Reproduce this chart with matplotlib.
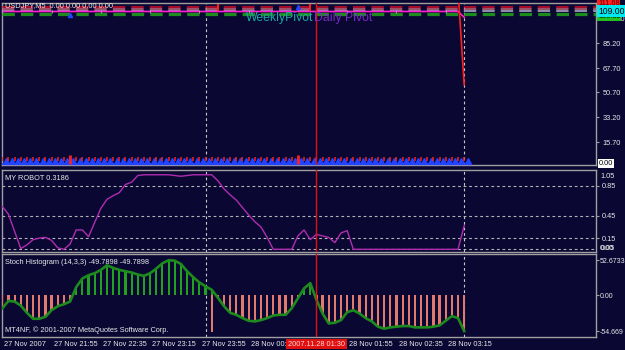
import matplotlib
matplotlib.use('Agg')
import matplotlib.pyplot as plt
import matplotlib.transforms as mtransforms

plt.rcParams['lines.scale_dashes'] = False
plt.rcParams['font.family'] = ['Liberation Sans', 'DejaVu Sans']

# ---------------- data ----------------
bars = list(range(76))
time_ticks = [0, 8, 16, 24, 32, 40, 56, 64, 72]
time_labels = ['27 Nov 2007', '27 Nov 21:55', '27 Nov 22:35', '27 Nov 23:15',
               '27 Nov 23:55', '28 Nov 00:35', '28 Nov 01:55',
               '28 Nov 02:35', '28 Nov 03:15']
cursor_bar = 51
cursor_label = '2007.11.28 01:30'
separator_bars = [33, 75]

main_ticks = [102.70, 85.20, 67.70, 50.70, 33.20, 15.70]
pivot_values = [110.7, 109.1, 107.9, 105.6]
daily_pivot_bars = [0, 74, 75]
daily_pivot_vals = [107.6, 107.6, 103.5]
fall_bars = [74, 75]
fall_vals = [122.0, 56.0]
sell_vals = [3.6] * 76
buy_vals = [2.2] * 76
big_arrow_bars = [11, 48]
top_red_bars = [35, 50]
top_blue_bars = [11, 48]
top_blue_vals = [105.3, 110.5]

robot = [0.575, 0.47, 0.24, 0.01, 0.06, 0.13, 0.15, 0.16, 0.12, 0.02,
         0.0, 0.07, 0.26, 0.26, 0.17, 0.36, 0.55, 0.67, 0.72, 0.76,
         0.87, 0.90, 0.99, 1.0, 1.0, 1.0, 1.0, 1.0, 0.99, 0.98,
         0.99, 1.0, 1.0, 1.0, 1.0, 0.92, 0.81, 0.73, 0.66, 0.56,
         0.46, 0.37, 0.30, 0.16, 0.0, 0.0, 0.0, 0.0, 0.18, 0.26,
         0.13, 0.20, 0.18, 0.16, 0.09, 0.22, 0.25,
         0.0, 0.0, 0.0, 0.0, 0.0, 0.0, 0.0, 0.0, 0.0, 0.0, 0.0, 0.0,
         0.0, 0.0, 0.0, 0.0, 0.0, 0.0, 0.3186]
robot_levels = [0.85, 0.45, 0.15, 0.0]
robot_ticks = [0.85, 0.45, 0.15]

stoch = [-20, -9, -10, -16, -27, -36, -36, -33, -23, -17,
         -14, -10, 12, 25, 30, 33, 38, 45, 41, 38,
         36, 34, 31, 29, 33, 40, 48, 52.67, 52, 47,
         36, 27, 19, 13, 8, -4, -17, -27, -30, -35,
         -39, -40, -38, -35, -31, -30, -30, -20, -5, 10,
         18, -7, -28, -43, -42, -38, -26, -23, -28, -35,
         -40, -48, -51, -49, -48, -47, -47, -49, -49, -49,
         -48, -46, -39, -32, -35, -54.669]
spike_bars = [34]
spike_vals = [-56]
stoch_ticks = [52.6733, 0.0, -54.669]
stoch_ticklabels = ['52.6733', '0.00', '-54.669']

# ---------------- figure ----------------
W, H = 625, 350
BG = '#0a0733'
FG = '#e8e8e8'
FRAME = '#a0a0a0'
FS = 5.3

fig = plt.figure(figsize=(W / 100, H / 100), dpi=100, facecolor=BG)


def px_axes(l, t, r, b):
    return fig.add_axes([l / W, 1 - b / H, (r - l) / W, (b - t) / H])


def ftext(x, y, s, **kw):
    kw.setdefault('color', FG)
    kw.setdefault('fontsize', FS)
    kw.setdefault('va', 'center')
    return fig.text(x / W, 1 - y / H, s, **kw)


ax_main = px_axes(2, 2.5, 596, 164.5)
ax_rob = px_axes(2, 170, 596, 252)
ax_sto = px_axes(2, 254, 596, 337)

for ax in (ax_main, ax_rob, ax_sto):
    ax.set_facecolor(BG)
    ax.set_xlim(-0.05, 96.4)
    for s in ax.spines.values():
        s.set_color(FRAME)
        s.set_linewidth(1)
    ax.set_xticks([])
    ax.yaxis.tick_right()
    ax.tick_params(axis='y', colors=FRAME, labelcolor=FG, labelsize=FS,
                   length=2, width=0.8, pad=2.5, direction='out')
    for b in separator_bars:
        ax.axvline(b, color='#c8c8c8', lw=0.8, ls=(0, (2, 2)), zorder=2)
    ax.axvline(cursor_bar, color='#e01010', lw=1.0, zorder=6)

# ---- main panel ----
ax_main.set_ylim(0, 113.9)
ax_main.set_yticks(main_ticks)
ax_main.set_yticklabels(['%.2f' % v for v in main_ticks])
piv_colors = ['#d81028', '#c86a7a', '#9a9ab8', '#1c8c1c']
piv_lw = [1.1, 1.1, 1.3, 2.3]
for v, c, lw in zip(pivot_values, piv_colors, piv_lw):
    ax_main.axhline(v, color=c, lw=lw, ls=(0, (8.9, 4.4)), zorder=3)
ax_main.plot(daily_pivot_bars, daily_pivot_vals, color='#ff22cc', lw=1.2, zorder=4)
ax_main.plot(fall_bars, fall_vals, color='#ff2020', lw=1.2, zorder=5)
ax_main.plot([b + 0.55 for b in bars], buy_vals, ls='none', marker='^', ms=4.6,
             color='#2244ff', mec='#2244ff', zorder=4)
ax_main.axhline(0.7, xmax=(75.6 + 0.05) / 96.45, color='#2244ff', lw=1.2, zorder=4)
ax_main.plot(bars, sell_vals, ls='none', marker='|', ms=3.2, mew=1.1,
             color='#ff2020', zorder=5)
ax_main.vlines(big_arrow_bars, 0.5, 6.5, color='#ff2020', lw=2, zorder=5)
ax_main.vlines(top_red_bars, 108.0, 113.0, color='#ff2020', lw=1.5, zorder=5)
ax_main.plot(top_blue_bars, top_blue_vals, ls='none', marker='^', ms=3,
             color='#2244ff', zorder=5)

ftext(5, 6, 'USDJPY,M5  0.00 0.00 0.00 0.00', zorder=7)
ftext(246, 18, 'WeeklyPivot', color='#1aa8a8', fontsize=8.8)
ftext(314, 18, 'Daily Pivot', color='#7a28c8', fontsize=8.8)

# price boxes on right scale
ftext(598, 3.5, '111.68', color='#600000', bbox=dict(fc='#ff2020', ec='none', pad=0.6))
ftext(598, 17.0, '105.32', color='#003000', bbox=dict(fc='#22c022', ec='none', pad=0.6))
ftext(598, 11.0, '109.00', color='#000000', fontsize=6.2,
      bbox=dict(fc='#00e8f0', ec='none', pad=0.8))
ftext(599, 163.2, '0.00', color='#000000', bbox=dict(fc='#ffffff', ec='none', pad=0.8))

# ---- robot panel ----
ax_rob.set_ylim(-0.036, 1.064)
ax_rob.set_yticks(robot_ticks)
ax_rob.set_yticklabels(['%.2f' % v for v in robot_ticks])
for v in robot_levels:
    ax_rob.axhline(v, color='#b4b4b4', lw=0.8, ls=(0, (2, 2)), zorder=2)
ax_rob.plot(bars, robot, color='#b02cb0', lw=1.0, zorder=4)
ftext(5, 178, 'MY ROBOT 0.3186')
ftext(600, 176, '1.05')
ftext(600, 248.5, '0.00')
ftext(600.5, 248.5, '0.05')

# ---- stoch panel ----
ax_sto.set_ylim(-63.6, 62.1)
ax_sto.set_yticks(stoch_ticks)
ax_sto.set_yticklabels(stoch_ticklabels)
ax_sto.tick_params(axis='y', pad=0.6, labelsize=5.0)
pos_b = [b for b, v in zip(bars, stoch) if v >= 0]
pos_v = [v for v in stoch if v >= 0]
neg_b = [b for b, v in zip(bars, stoch) if v < 0]
neg_v = [v for v in stoch if v < 0]
ax_sto.bar(pos_b, pos_v, width=0.34, color='#22a022', zorder=3)
ax_sto.bar(neg_b, neg_v, width=0.36, color='#e07a6a', zorder=3)
ax_sto.bar(spike_bars, spike_vals, width=0.36, color='#e07a6a', zorder=3)
ax_sto.plot(bars, stoch, color='#1d8a1d', lw=1.9, zorder=4)
ftext(5, 263, 'Stoch Histogram (14,3,3) -49.7898 -49.7898')
ftext(5, 330, 'MT4NF, \u00a9 2001-2007 MetaQuotes Software Corp.')

# ---- time axis ----
trans = mtransforms.blended_transform_factory(ax_sto.transData, fig.transFigure)
ax_sto.vlines(time_ticks, 337.3 / H, 340.5 / H, color=FRAME, lw=0.8,
              transform=trans, clip_on=False)
for tk, lab in zip(time_ticks, time_labels):
    ax_sto.text(tk + 0.35, 1 - 344 / H, lab, transform=trans, ha='left', va='center',
                color=FG, fontsize=FS, clip_on=False, zorder=5)
ax_sto.text(cursor_bar, 1 - 344 / H, cursor_label, transform=trans, ha='center',
            va='center', color='#ffd8d8', fontsize=FS, clip_on=False, zorder=8,
            bbox=dict(fc='#e01010', ec='none', pad=1.2))

fig.savefig('out.png', dpi=100, facecolor=BG)
